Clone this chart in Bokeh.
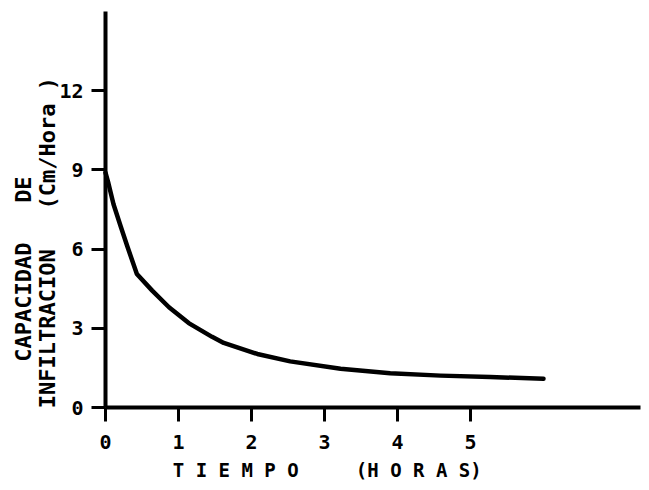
import numpy as np
from bokeh.plotting import figure
from bokeh.models import Range1d, FixedTicker, LinearAxis
from bokeh.embed import file_html
from bokeh.resources import INLINE

# --- data ---
tiempo = [0.0, 0.04, 0.11, 0.21, 0.30, 0.43, 0.64, 0.87, 1.14, 1.46, 1.62, 2.08,
          2.53, 3.22, 3.90, 4.59, 5.27, 6.0]
capacidad = [8.9, 8.5, 7.7, 6.85, 6.1, 5.06, 4.43, 3.8, 3.2, 2.68, 2.45, 2.03,
             1.75, 1.47, 1.3, 1.21, 1.16, 1.09]
x_ticks = [0, 1, 2, 3, 4, 5]
y_ticks = [0, 3, 6, 9, 12]

NB = "\u00a0"
x_title = "T I E M P O" + NB * 5 + "(H O R A S)" + NB * 8
y_title_outer = "CAPACIDAD" + NB * 3 + "DE" + NB * 9
y_title_inner = "INFILTRACION" + NB * 3 + "(Cm/Hora )" + NB * 5

FONT = "DejaVu Sans Mono"
X_END = 7.33
Y_END = 15.0

p = figure(width=645, height=486, output_backend="svg", toolbar_location=None,
           x_range=Range1d(-1.438, 7.397), y_range=Range1d(-2.99, 15.42),
           x_axis_location=None, y_axis_location=None,
           min_border=0, min_border_left=0, min_border_right=0,
           min_border_top=0, min_border_bottom=0)
p.outline_line_color = None
p.grid.visible = False
p.background_fill_color = "white"
p.border_fill_color = "white"

p.line(tiempo, capacidad, line_width=4.5, line_color="black", line_cap="round", line_join="round")


def style(ax, ticks):
    ax.ticker = FixedTicker(ticks=ticks)
    ax.axis_line_width = 4
    ax.axis_line_color = "black"
    ax.major_tick_line_width = 3
    ax.major_tick_line_color = "black"
    ax.major_tick_in = 0
    ax.minor_tick_line_color = None
    ax.major_label_text_font = FONT
    ax.major_label_text_font_style = "bold"
    ax.major_label_text_font_size = "20px"
    ax.major_label_text_color = "black"
    ax.axis_label_text_font = FONT
    ax.axis_label_text_font_style = "bold"
    ax.axis_label_text_color = "black"


xaxis = LinearAxis(fixed_location=0, bounds=(0, X_END))
style(xaxis, x_ticks)
xaxis.major_tick_out = 14
xaxis.major_label_standoff = 13
xaxis.axis_label = x_title
xaxis.axis_label_text_font_size = "19px"
xaxis.axis_label_standoff = 7
p.add_layout(xaxis, "below")

yaxis = LinearAxis(fixed_location=0, bounds=(0, Y_END))
style(yaxis, y_ticks)
yaxis.major_tick_out = 14
yaxis.major_label_standoff = 8
yaxis.axis_label = y_title_inner
yaxis.axis_label_text_font_size = "22px"
yaxis.axis_label_standoff = -4
p.add_layout(yaxis, "left")

outer = LinearAxis(fixed_location=0, bounds=(0, Y_END), ticker=FixedTicker(ticks=[]),
                   axis_line_color=None, major_tick_line_color=None,
                   minor_tick_line_color=None, major_tick_out=0,
                   major_label_text_font_size="0px",
                   axis_label=y_title_outer, axis_label_text_font=FONT,
                   axis_label_text_font_style="bold", axis_label_text_font_size="22px",
                   axis_label_text_color="black", axis_label_standoff=70)
p.add_layout(outer, "left")

open("out.html", "w").write(file_html(p, INLINE))
